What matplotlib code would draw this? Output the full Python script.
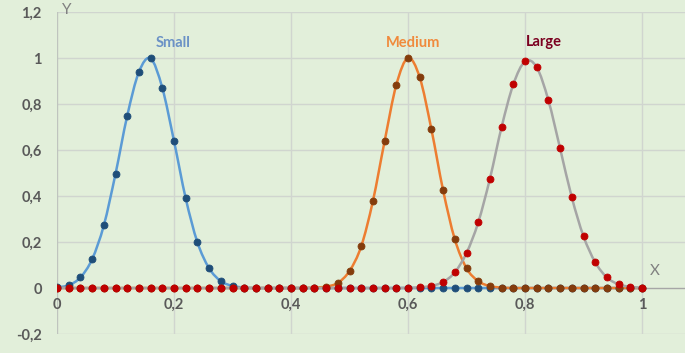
import numpy as np
import matplotlib
matplotlib.use("Agg")
import matplotlib.pyplot as plt
from matplotlib.path import Path
from matplotlib.patches import PathPatch

# x grid of the sheet (step 0,02)
X = [0.00, 0.02, 0.04, 0.06, 0.08, 0.10, 0.12, 0.14, 0.16, 0.18,
     0.20, 0.22, 0.24, 0.26, 0.28, 0.30, 0.32, 0.34, 0.36, 0.38,
     0.40, 0.42, 0.44, 0.46, 0.48, 0.50, 0.52, 0.54, 0.56, 0.58,
     0.60, 0.62, 0.64, 0.66, 0.68, 0.70, 0.72, 0.74, 0.76, 0.78,
     0.80, 0.82, 0.84, 0.86, 0.88, 0.90, 0.92, 0.94, 0.96, 0.98, 1.00]

SMALL = [0.003, 0.012, 0.046, 0.125, 0.272, 0.496, 0.748, 0.939, 0.998, 0.870,
         0.639, 0.390, 0.199, 0.086, 0.030, 0.009, 0.002, 0, 0, 0,
         0, 0, 0, 0, 0, 0, 0, 0, 0, 0,
         0, 0, 0, 0, 0, 0, 0, 0, 0, 0,
         0, 0, 0, 0, 0, 0, 0, 0, 0, 0, 0]

MEDIUM = [0, 0, 0, 0, 0, 0, 0, 0, 0, 0,
          0, 0, 0, 0, 0, 0, 0, 0, 0, 0,
          0, 0, 0.002, 0.006, 0.022, 0.074, 0.181, 0.378, 0.638, 0.883,
          1.000, 0.916, 0.690, 0.425, 0.212, 0.086, 0.030, 0.008, 0.002, 0,
          0, 0, 0, 0, 0, 0, 0, 0, 0, 0, 0]

LARGE = [0, 0, 0, 0, 0, 0, 0, 0, 0, 0,
         0, 0, 0, 0, 0, 0, 0, 0, 0, 0,
         0, 0, 0, 0, 0, 0, 0, 0, 0, 0,
         0.001, 0.003, 0.009, 0.026, 0.068, 0.152, 0.285, 0.475, 0.700, 0.885,
         0.985, 0.960, 0.816, 0.607, 0.394, 0.225, 0.112, 0.046, 0.016, 0.005, 0.001]

SERIES = [
    ("Small", SMALL, "#5b9bd5", "#1f4e79", "#6b92c6", 0.198, 1.065),
    ("Medium", MEDIUM, "#ed7d31", "#843c0c", "#f08a3c", 0.609, 1.065),
    ("Large", LARGE, "#a5a5a5", "#c00000", "#7b0020", 0.832, 1.070),
]

BG = "#e2efda"
GRID = "#d0d5cf"
TXT = "#595959"


def smooth_path(xs, ys):
    # Catmull-Rom through the points, as Bezier segments (like Excel "smoothed line")
    pts = np.column_stack([xs, ys])
    verts = [pts[0]]
    codes = [Path.MOVETO]
    n = len(pts)
    for i in range(n - 1):
        p0 = pts[max(i - 1, 0)]
        p1 = pts[i]
        p2 = pts[i + 1]
        p3 = pts[min(i + 2, n - 1)]
        verts += [p1 + (p2 - p0) / 6, p2 - (p3 - p1) / 6, p2]
        codes += [Path.CURVE4] * 3
    return Path(verts, codes)


def main():
    plt.rcParams["font.family"] = ["Lato", "DejaVu Sans"]
    fig = plt.figure(figsize=(6.85, 3.53), dpi=100, facecolor=BG)
    ax = fig.add_axes([57 / 685, 1 - 334 / 353, 1 - 57 / 685, 322 / 353])
    ax.set_facecolor(BG)
    ax.set_xlim(0, 628 / 585)
    ax.set_ylim(-0.2, 1.2)

    for s in ax.spines.values():
        s.set_visible(False)

    yt = [-0.2, 0, 0.2, 0.4, 0.6, 0.8, 1.0, 1.2]
    xt = [0, 0.2, 0.4, 0.6, 0.8, 1.0]
    for y in yt:
        if y != 0:
            ax.axhline(y, color=GRID, lw=1.0, zorder=0)
    for x in xt[1:]:
        ax.axvline(x, color=GRID, lw=1.0, zorder=0)
    ax.axvline(0, color="#bfc4be", lw=1.0, zorder=1)
    ax.axhline(0, color="#a6a6a6", lw=1.0, zorder=1)

    def fmt(v):
        s = f"{v:.1f}".rstrip("0").rstrip(".")
        return "0" if s in ("0", "-0") else s.replace(".", ",")

    ax.set_xticks([])
    ax.set_yticks(yt)
    ax.set_yticklabels([fmt(v) for v in yt])
    ax.tick_params(axis="y", length=0, pad=11, labelsize=10.5,
                   labelcolor=TXT)
    for lab in ax.get_yticklabels():
        lab.set_fontweight("bold")
    for x in xt:
        ax.text(x, -0.074, fmt(x), ha="center", va="center", fontsize=10.5,
                fontweight="bold", color=TXT)

    for name, ys, lc, mc, tc, tx, ty in SERIES:
        ax.add_patch(PathPatch(smooth_path(X, ys), fill=False, ec=lc,
                               lw=1.8, zorder=3, capstyle="round"))
        ax.plot(X, ys, ls="none", marker="o", ms=5, mfc=mc, mec=mc,
                mew=0.6, zorder=4)
        ax.text(tx, ty, name, ha="center", va="center", fontsize=10.5,
                fontweight="bold", color=tc)

    ax.text(0.008, 1.21, "Y", ha="left", va="center", fontsize=11,
            color="#808080")
    ax.text(1.013, 0.074, "X", ha="left", va="center", fontsize=11,
            color="#808080")

    fig.savefig("out.png", dpi=100, facecolor=BG)
    plt.close(fig)


if __name__ == "__main__":
    main()
